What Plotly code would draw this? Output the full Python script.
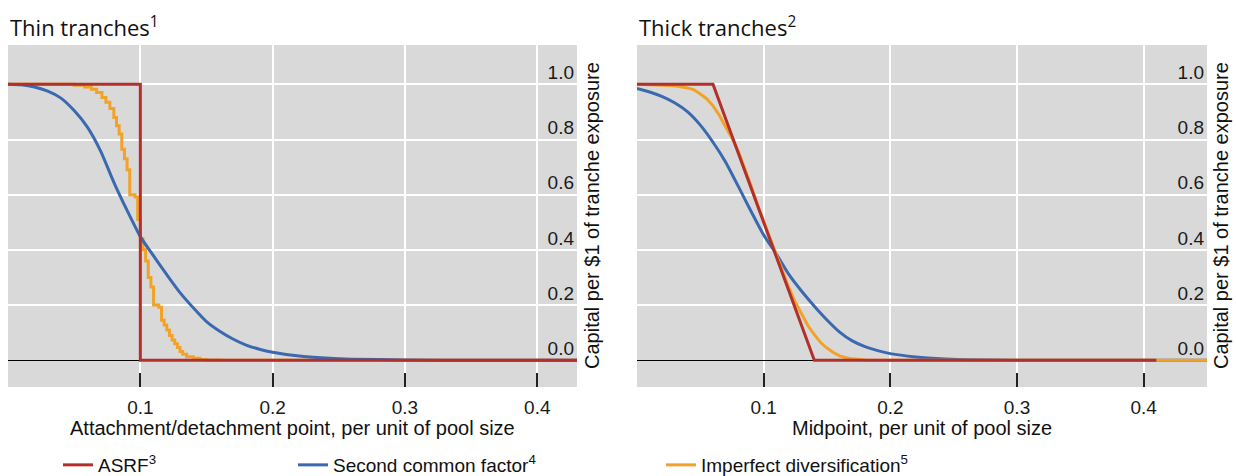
import plotly.graph_objects as go

W, H = 1236, 476

# ---------------- data ----------------
# Thin tranches
thin_asrf_x = [0.0, 0.1, 0.1, 0.43]
thin_asrf_y = [1.0, 1.0, 0.0, 0.0]

thin_scf_x = [0.000, 0.010, 0.020, 0.030, 0.040, 0.050, 0.060, 0.070, 0.080, 0.090,
              0.100, 0.110, 0.120, 0.130, 0.140, 0.150, 0.160, 0.170, 0.180, 0.190,
              0.200, 0.220, 0.240, 0.260, 0.300, 0.350, 0.430]
thin_scf_y = [1.000, 0.998, 0.990, 0.975, 0.950, 0.905, 0.845, 0.758, 0.645, 0.543,
              0.448, 0.378, 0.310, 0.245, 0.190, 0.140, 0.105, 0.077, 0.055, 0.040,
              0.029, 0.015, 0.008, 0.004, 0.001, 0.000, 0.000]

thin_imp_x = [0.000, 0.050, 0.058, 0.063, 0.067, 0.071, 0.074, 0.077, 0.080, 0.082,
              0.084, 0.086, 0.088, 0.090, 0.092, 0.096, 0.098, 0.100, 0.102, 0.104,
              0.106, 0.108, 0.110, 0.114, 0.116, 0.118, 0.120, 0.122, 0.124, 0.126,
              0.128, 0.130, 0.132, 0.135, 0.140, 0.145, 0.150, 0.160, 0.430]
thin_imp_y = [1.000, 0.997, 0.990, 0.982, 0.970, 0.952, 0.935, 0.912, 0.880, 0.850,
              0.820, 0.765, 0.730, 0.690, 0.600, 0.592, 0.510, 0.440, 0.400, 0.360,
              0.300, 0.265, 0.200, 0.192, 0.145, 0.128, 0.110, 0.090, 0.073, 0.060,
              0.046, 0.032, 0.022, 0.013, 0.007, 0.003, 0.001, 0.000, 0.000]

# Thick tranches
thick_asrf_x = [0.0, 0.06, 0.14, 0.41]
thick_asrf_y = [1.0, 1.0, 0.0, 0.0]

thick_scf_x = [0.000, 0.010, 0.020, 0.030, 0.040, 0.050, 0.060, 0.070, 0.080, 0.090,
               0.100, 0.110, 0.120, 0.130, 0.140, 0.150, 0.160, 0.170, 0.180, 0.190,
               0.200, 0.220, 0.240, 0.260, 0.300, 0.450]
thick_scf_y = [0.985, 0.972, 0.955, 0.932, 0.900, 0.852, 0.790, 0.718, 0.630, 0.540,
               0.454, 0.385, 0.310, 0.250, 0.196, 0.146, 0.102, 0.070, 0.049, 0.035,
               0.024, 0.012, 0.005, 0.002, 0.000, 0.000]

thick_imp_x = [0.000, 0.030, 0.040, 0.045, 0.050, 0.055, 0.060, 0.065, 0.070, 0.075,
               0.080, 0.085, 0.090, 0.095, 0.100, 0.105, 0.110, 0.115, 0.120, 0.125,
               0.130, 0.135, 0.140, 0.145, 0.150, 0.155, 0.160, 0.165, 0.170, 0.180,
               0.200, 0.450]
thick_imp_y = [1.000, 0.995, 0.987, 0.980, 0.965, 0.948, 0.922, 0.888, 0.845, 0.805,
               0.757, 0.697, 0.633, 0.565, 0.505, 0.440, 0.378, 0.320, 0.262, 0.210,
               0.165, 0.125, 0.093, 0.064, 0.044, 0.028, 0.016, 0.009, 0.005, 0.001,
               0.000, 0.000]

x_tick_vals = [0.1, 0.2, 0.3, 0.4]
y_tick_vals = [0.0, 0.2, 0.4, 0.6, 0.8, 1.0]

series_names = ["ASRF<sup>3</sup>", "Second common factor<sup>4</sup>",
                "Imperfect diversification<sup>5</sup>"]
panel_titles = ["Thin tranches<sup>1</sup>", "Thick tranches<sup>2</sup>"]
x_titles = ["Attachment/detachment point, per unit of pool size",
            "Midpoint, per unit of pool size"]
y_title = "Capital per $1 of tranche exposure"

RED = "#b2302c"
BLUE = "#3b69b0"
ORANGE = "#f2a227"
BG = "#d9d9d9"

fig = go.Figure()

def tr(xy, color, name_i, xa, ya, show, leg_id, shape="linear"):
    line = dict(color=color, width=3, shape=shape)
    if shape == "spline":
        line["smoothing"] = 0.6
    return go.Scatter(x=xy[0], y=xy[1], mode="lines", line=line, name=series_names[name_i],
                      xaxis=xa, yaxis=ya, showlegend=show, legend=leg_id)

# thin panel: orange, blue, red (red on top)
fig.add_trace(tr((thin_imp_x, thin_imp_y), ORANGE, 2, "x", "y", True, "legend3", "hv"))
fig.add_trace(tr((thin_scf_x, thin_scf_y), BLUE, 1, "x", "y", True, "legend2", "spline"))
fig.add_trace(tr((thin_asrf_x, thin_asrf_y), RED, 0, "x", "y", True, "legend"))
# thick panel: blue, orange, red
fig.add_trace(tr((thick_scf_x, thick_scf_y), BLUE, 1, "x2", "y2", False, "legend2", "spline"))
fig.add_trace(tr((thick_imp_x, thick_imp_y), ORANGE, 2, "x2", "y2", False, "legend3"))
fig.add_trace(tr((thick_asrf_x, thick_asrf_y), RED, 0, "x2", "y2", False, "legend"))

ydom = [(H - 387) / H, (H - 45) / H]
dom1 = [8 / W, 577 / W]
dom2 = [637 / W, 1207 / W]

tickfont = dict(family="Liberation Sans, Arial, sans-serif", size=19, color="#1a1a1a")

def xaxis(dom, rng, anchor):
    return dict(domain=dom, range=rng, anchor=anchor, tickvals=x_tick_vals, tickformat=".1f",
                showgrid=True, gridcolor="white", gridwidth=2, zeroline=False,
                ticks="inside", ticklen=14, tickwidth=1.5, tickcolor="#222",
                showline=False, tickfont=tickfont, ticklabelstandoff=7, automargin=False)

def yaxis(anchor):
    return dict(domain=ydom, range=[-0.097, 1.1425], anchor=anchor, side="right",
                tickvals=y_tick_vals, tickformat=".1f", ticklabelposition="inside",
                ticklabelshift=-12, ticks="", showgrid=True, gridcolor="white", gridwidth=2,
                zeroline=True, zerolinecolor="black", zerolinewidth=1.2,
                showline=False, tickfont=tickfont, automargin=False)

annots = []
for i, (dom, xt) in enumerate([(dom1, x_titles[0]), (dom2, x_titles[1])]):
    annots.append(dict(text=panel_titles[i], x=dom[0], y=(H - 26) / H, xref="paper", yref="paper",
                       xanchor="left", yanchor="middle", showarrow=False,
                       font=dict(family="Open Sans, Noto Sans, sans-serif", size=22, color="#111")))
    annots.append(dict(text=xt, x=(dom[0] + dom[1]) / 2, y=(H - 428) / H, xref="paper", yref="paper",
                       xanchor="center", yanchor="middle", showarrow=False,
                       font=dict(family="Liberation Sans, Arial, sans-serif", size=20, color="#111")))
for xp in [592, 1221]:
    annots.append(dict(text=y_title, x=xp / W, y=(H - 216) / H, xref="paper", yref="paper",
                       xanchor="center", yanchor="middle", textangle=-90, showarrow=False,
                       font=dict(family="Liberation Sans, Arial, sans-serif", size=20, color="#111")))

legfont = dict(family="Liberation Sans, Arial, sans-serif", size=19, color="#111")
def leg(xp):
    return dict(x=xp / W, y=(H - 465) / H, xanchor="left", yanchor="middle", orientation="h",
                bgcolor="rgba(0,0,0,0)", font=legfont, borderwidth=0)

fig.update_layout(
    width=W, height=H, margin=dict(l=0, r=0, t=0, b=0, autoexpand=False),
    paper_bgcolor="white", plot_bgcolor=BG,
    xaxis=xaxis(dom1, [0, 0.43], "y"), yaxis=yaxis("x"),
    xaxis2=xaxis(dom2, [0, 0.45], "y2"), yaxis2=yaxis("x2"),
    annotations=annots,
    legend=leg(58), legend2=leg(293), legend3=leg(661),
)

fig.write_html("out.html", config={"displayModeBar": False},
               post_script="document.body.style.margin='0';document.body.style.overflow='hidden';")
